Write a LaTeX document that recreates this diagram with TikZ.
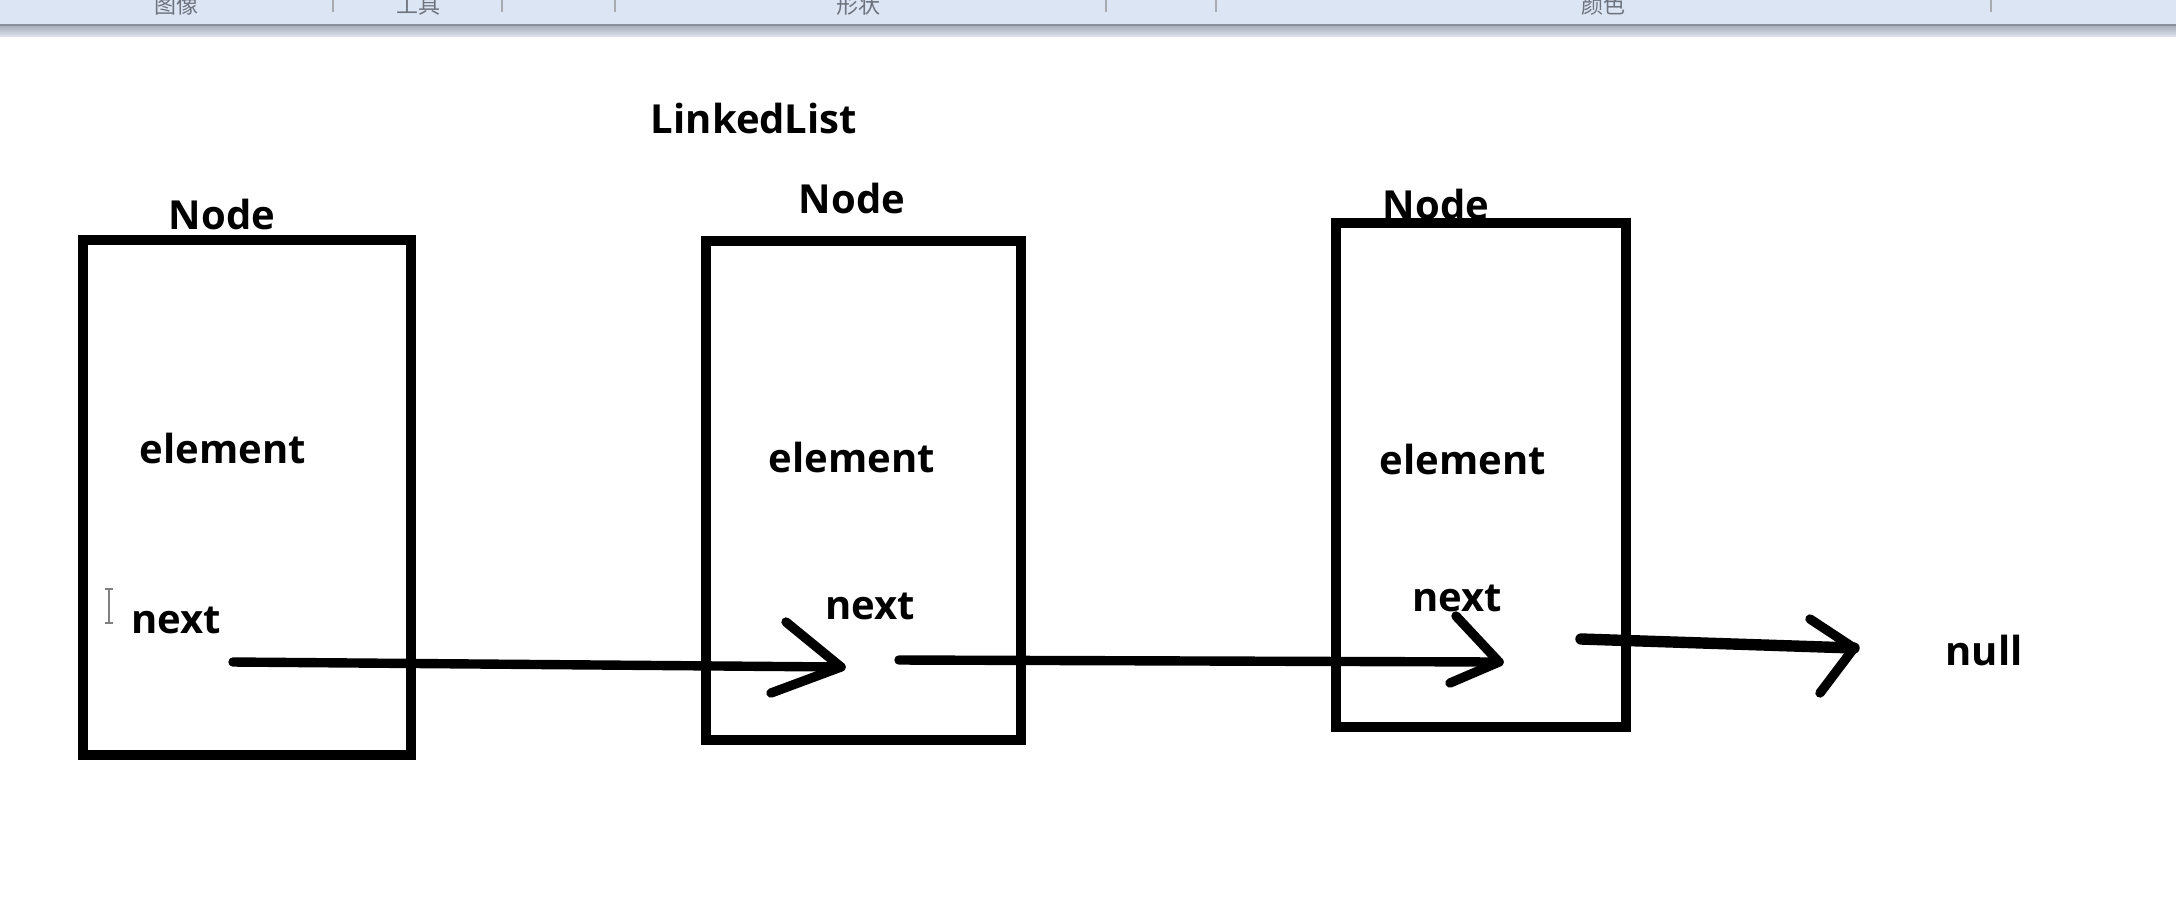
\documentclass[tikz,border=0pt]{standalone}
\usepackage{fontspec}
\setmainfont{Open Sans}
\newfontfamily\cjk{Noto Sans CJK SC}
\definecolor{barblue}{RGB}{219,229,244}
\definecolor{bargray}{RGB}{196,205,222}
\definecolor{bartext}{RGB}{110,115,125}
\begin{document}
\begin{tikzpicture}[x=0.5pt,y=-0.5pt,
  nodebox/.style={draw=black, line width=5pt, rectangle, inner sep=0pt, line join=miter},
  lbl/.style={inner sep=0pt, font=\fontsize{20}{24}\selectfont\bfseries},
  link/.style={draw=black, line width=4.7pt, line cap=round, line join=round},
  tbtext/.style={inner sep=0pt, anchor=base, text=bartext, font=\cjk\fontsize{11}{13}\selectfont},
  tbsep/.style={draw=bartext!60, line width=0.6pt}]
\useasboundingbox (0,0) rectangle (2176,896);
\fill[white] (0,0) rectangle (2176,896);
% toolbar strip
\fill[barblue] (0,0) rectangle (2176,25);
\shade[top color=bargray!80!black!90, bottom color=bargray!60] (0,25) rectangle (2176,36);
\draw[bargray!70!black, line width=0.6pt] (0,25) -- (2176,25);
\begin{scope}
  \clip (0,0) rectangle (2176,25);
  \node[tbtext] (tb1) at (176,13) {图像};
  \node[tbtext] (tb2) at (418,13) {工具};
  \node[tbtext] (tb3) at (858,13) {形状};
  \node[tbtext] (tb4) at (1603,13) {颜色};
  \foreach \sx in {333,502,615,1106,1216,1991} \draw[tbsep] (\sx,0) -- (\sx,12);
\end{scope}
% title
\node[lbl] (title) at (754,118) {LinkedList};
% boxes
\node[nodebox, minimum width=164pt, minimum height=257.5pt] (box1) at (247,497.5) {};
\node[nodebox, minimum width=157.5pt, minimum height=249.5pt] (box2) at (863.5,490.5) {};
\node[nodebox, minimum width=145pt, minimum height=252pt] (box3) at (1481,475) {};
% labels
\node[lbl] (node1) at (222,214) {Node};
\node[lbl] (node2) at (852,198) {Node};
\node[lbl] (node3) at (1436,204) {Node};
\node[lbl] (el1) at (223,448) {element};
\node[lbl] (el2) at (852,457) {element};
\node[lbl] (el3) at (1463,459) {element};
\node[lbl] (nx1) at (176,620) {next};
\node[lbl] (nx2) at (870,606) {next};
\node[lbl] (nx3) at (1457,598) {next};
\node[lbl] (null) at (1984,650) {null};
% text cursor
\draw[gray, line width=0.9pt] (109,589) -- (109,623) (105,589) -- (113,589) (105,623) -- (113,623);
% connector points
\coordinate (a1s) at (233,662);
\coordinate (a1t) at (841,667);
\coordinate (a1u) at (786,622);
\coordinate (a1l) at (771,693);
\coordinate (a2s) at (899,660);
\coordinate (a2t) at (1499,662);
\coordinate (a2u) at (1456,616);
\coordinate (a2l) at (1450,683);
\coordinate (a3s) at (1581,639);
\coordinate (a3t) at (1854,648);
\coordinate (a3u) at (1810,619);
\coordinate (a3l) at (1820,693);
% arrows
\draw[link] (a1s) -- (a1t);
\draw[link] (a1u) -- (a1t) -- (a1l);
\draw[link] (a2s) -- (a2t);
\draw[link] (a2u) -- (a2t) -- (a2l);
\draw[link, line width=5.7pt] (a3s) -- (a3t);
\draw[link] (a3u) -- (a3t) -- (a3l);
\end{tikzpicture}
\end{document}
